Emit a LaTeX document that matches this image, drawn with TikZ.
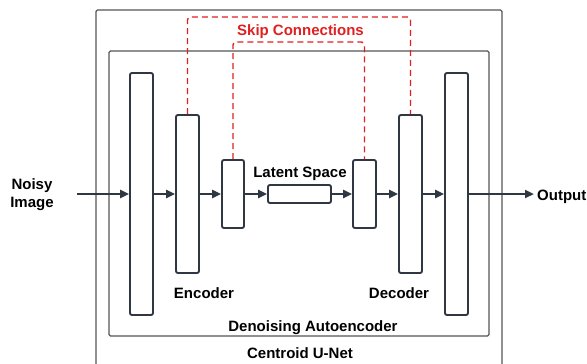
\documentclass[tikz,border=0pt]{standalone}
\usepackage{fontspec}
\setmainfont{Liberation Sans}
\usetikzlibrary{arrows.meta}
\definecolor{edge}{HTML}{2F3742}
\definecolor{frame}{HTML}{555555}
\definecolor{skipred}{HTML}{E02020}
\tikzset{
  x=1pt, y=-1pt,
  lbl/.style={font=\bfseries\fontsize{15}{18}\selectfont, text=black, inner sep=0pt, align=center},
  layer/.style={draw=edge, line width=1.9pt, fill=white, rounded corners=2pt, inner sep=0pt},
  flow/.style={draw=edge, line width=2.6pt, -{Triangle[length=9pt,width=8pt]}},
  skip/.style={draw=skipred, line width=1.4pt, dash pattern=on 6pt off 4pt, rounded corners=3pt},
  container/.style={draw=frame, line width=1.3pt, rounded corners=1.5pt}
}
\begin{document}
\begin{tikzpicture}
\useasboundingbox (0,0) rectangle (587,364);
% outer Centroid U-Net frame (runs past the lower edge)
\draw[container] (96,370) -- (96,10) -- (502,10) -- (502,370);
% Denoising autoencoder frame
\draw[container] (109,51) rectangle (489,336);

% network layers
\node[layer, minimum width=23pt, minimum height=242pt] (l1) at (141.5,194) {};
\node[layer, minimum width=23pt, minimum height=158pt] (enc) at (187.5,194) {};
\node[layer, minimum width=22pt, minimum height=68pt] (enc2) at (233,194) {};
\node[layer, minimum width=63pt, minimum height=18pt] (lat) at (299.5,194) {};
\node[layer, minimum width=23pt, minimum height=68pt] (dec2) at (364.5,194) {};
\node[layer, minimum width=23pt, minimum height=158pt] (dec) at (410.5,194) {};
\node[layer, minimum width=23pt, minimum height=242pt] (l7) at (456.5,194) {};

% labels
\node[lbl] (inp) at (32,195) {Noisy\\Image};
\node[lbl, anchor=base west] (out) at (537,200) {Output};
\node[lbl, anchor=base] (latlbl) at (300,177) {Latent Space};
\node[lbl, anchor=base] (enclbl) at (204,298) {Encoder};
\node[lbl, anchor=base] (declbl) at (399,298) {Decoder};
\node[lbl, anchor=base] (dae) at (313,331) {Denoising Autoencoder};
\node[lbl, anchor=base] (unet) at (300,358) {Centroid U-Net};
\node[lbl, anchor=base, text=skipred] (skiplbl) at (300.5,35) {Skip Connections};

% forward flow
\coordinate (in0) at (77,194);
\coordinate (out0) at (534,194);
\draw[flow] (in0) -- (l1.west);
\draw[flow] (l1.east) -- (enc.west);
\draw[flow] (enc.east) -- (enc2.west);
\draw[flow] (enc2.east) -- (lat.west);
\draw[flow] (lat.east) -- (dec2.west);
\draw[flow] (dec2.east) -- (dec.west);
\draw[flow] (dec.east) -- (l7.west);
\draw[flow] (l7.east) -- (out0);

% skip connections
\draw[skip] (enc.north) -- (187.5,17) -- (410.5,17) -- (dec.north);
\draw[skip] (enc2.north) -- (233,42) -- (364.5,42) -- (dec2.north);
\end{tikzpicture}
\end{document}
